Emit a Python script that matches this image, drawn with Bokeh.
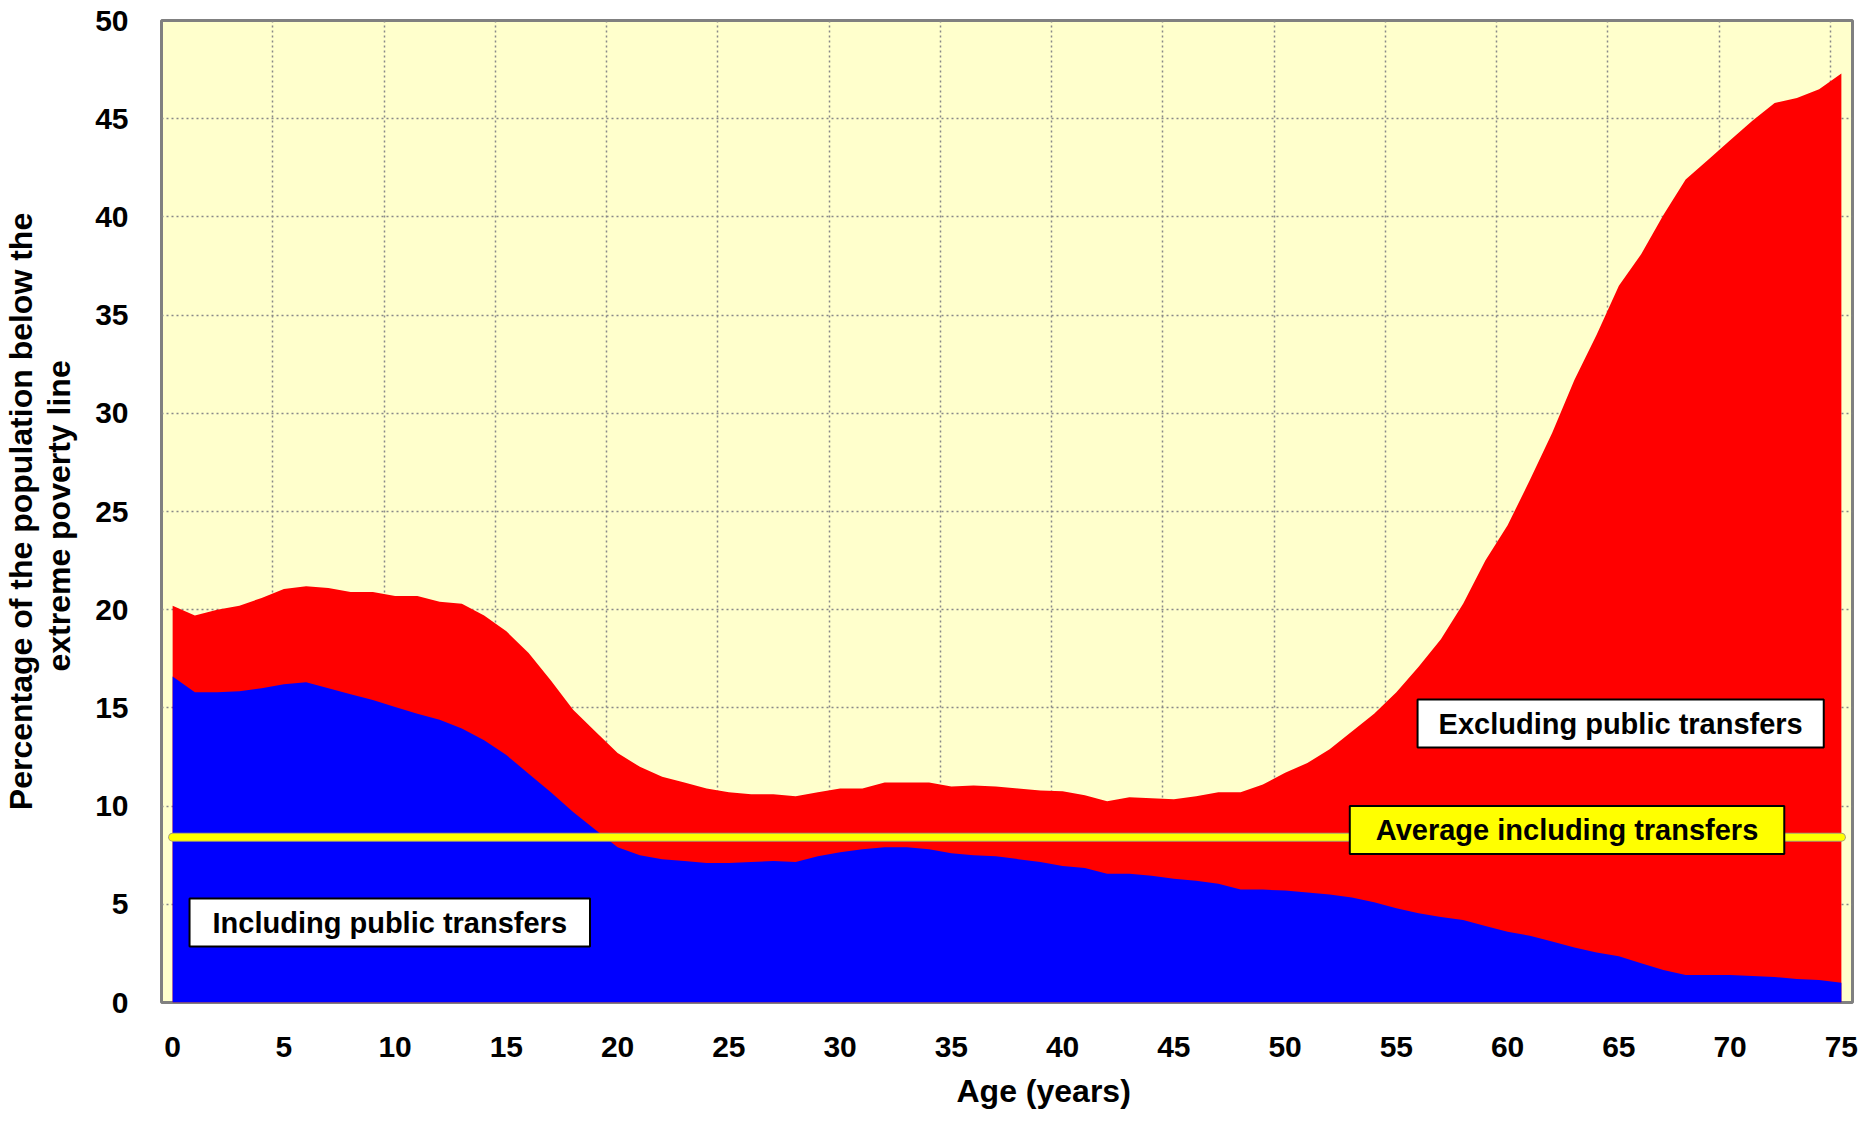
from bokeh.plotting import figure
from bokeh.models import Range1d, FixedTicker, Label, Title, ColumnDataSource
from bokeh.embed import file_html
from bokeh.resources import INLINE

# ---- data ----
ages = list(range(0, 76))
excluding_transfers = [
    20.2, 19.7, 20.0, 20.2, 20.6, 21.05, 21.2, 21.1, 20.9, 20.9,
    20.7, 20.7, 20.4, 20.3, 19.7, 18.9, 17.8, 16.4, 14.9, 13.8,
    12.7, 12.0, 11.5, 11.2, 10.9, 10.7, 10.6, 10.6, 10.5, 10.7,
    10.9, 10.9, 11.2, 11.2, 11.2, 11.0, 11.05, 11.0, 10.9, 10.8,
    10.75, 10.55, 10.25, 10.45, 10.4, 10.35, 10.5, 10.7, 10.7, 11.1,
    11.7, 12.2, 12.9, 13.8, 14.7, 15.8, 17.1, 18.5, 20.3, 22.5,
    24.3, 26.6, 29.0, 31.7, 34.0, 36.5, 38.1, 40.1, 41.9, 42.9,
    43.9, 44.9, 45.8, 46.05, 46.5, 47.3,
]
including_transfers = [
    16.6, 15.8, 15.8, 15.85, 16.0, 16.2, 16.3, 16.0, 15.7, 15.4,
    15.05, 14.7, 14.4, 13.95, 13.35, 12.6, 11.65, 10.7, 9.7, 8.8,
    7.9, 7.5, 7.3, 7.2, 7.1, 7.1, 7.15, 7.2, 7.15, 7.45,
    7.65, 7.8, 7.9, 7.9, 7.8, 7.6, 7.5, 7.45, 7.3, 7.15,
    6.95, 6.85, 6.55, 6.55, 6.45, 6.3, 6.2, 6.05, 5.75, 5.75,
    5.7, 5.6, 5.5, 5.35, 5.1, 4.8, 4.55, 4.35, 4.2, 3.9,
    3.6, 3.4, 3.1, 2.8, 2.55, 2.35, 2.0, 1.65, 1.4, 1.4,
    1.4, 1.35, 1.3, 1.2, 1.15, 1.0,
]
average_including = 8.42
x_ticks = list(range(0, 76, 5))
y_ticks = list(range(0, 51, 5))

label_including = "Including public transfers"
label_excluding = "Excluding public transfers"
label_average = "Average including transfers"
x_title = "Age (years)"
y_title = "Percentage of the population below the\nextreme poverty  line"

FONT = "Liberation Sans"

src = ColumnDataSource(dict(age=ages, excl=excluding_transfers, incl=including_transfers,
                            zero=[0] * len(ages)))

p = figure(width=1870, height=1121,
           x_range=Range1d(-0.5, 75.5), y_range=Range1d(0, 50),
           output_backend="svg", toolbar_location=None,
           min_border_left=161, min_border_right=18,
           min_border_top=20, min_border_bottom=119,
           background_fill_color="#FFFFCC", border_fill_color="white")

p.outline_line_color = "#808080"
p.outline_line_width = 3

# areas
p.varea(x="age", y1="zero", y2="excl", source=src, fill_color="#FF0000")
p.varea(x="age", y1="zero", y2="incl", source=src, fill_color="#0000FF")

# average line
p.line([ages[0], ages[-1]], [average_including, average_including],
       line_color="#A8A070", line_width=9, line_cap="round")
p.line([ages[0], ages[-1]], [average_including, average_including],
       line_color="#FFFF00", line_width=7, line_cap="round")

# axes
p.xaxis.ticker = FixedTicker(ticks=x_ticks)
p.yaxis.ticker = FixedTicker(ticks=y_ticks)
for ax in (p.xaxis[0], p.yaxis[0]):
    ax.axis_line_color = None
    ax.major_tick_line_color = None
    ax.minor_tick_line_color = None
    ax.major_label_text_font = FONT
    ax.major_label_text_font_style = "bold"
    ax.major_label_text_font_size = "30px"
    ax.major_label_text_color = "black"
    ax.axis_label_text_font = FONT
    ax.axis_label_text_font_style = "bold"
    ax.axis_label_text_color = "black"

p.xaxis.major_label_standoff = 28
p.yaxis.axis_label = y_title
p.yaxis.axis_label_text_font_size = "32px"
p.yaxis.major_label_standoff = 27
p.yaxis.axis_label_standoff = 15
p.yaxis.axis_label_text_line_height = 1.05

# x-axis title (sits right of centre, as in the reference)
p.add_layout(Title(text=x_title, align="left", offset=795, standoff=23,
                   text_font=FONT, text_font_style="bold", text_font_size="32px",
                   text_color="black"), "below")

# grids
p.xgrid.ticker = FixedTicker(ticks=[t - 0.5 for t in x_ticks if t > 0])
p.ygrid.ticker = FixedTicker(ticks=[t for t in y_ticks if 0 < t < 50])
for g in (p.xgrid[0], p.ygrid[0]):
    g.grid_line_color = "#888888"
    g.grid_line_dash = "2 3"
    g.grid_line_width = 1.5

# text boxes
def box(x, y, text, fill, hpad):
    lab = Label(x=x, y=y, text=text, text_align="center", text_baseline="middle",
                text_font=FONT, text_font_style="bold", text_font_size="29px",
                text_color="black", background_fill_color=fill,
                border_line_color="black", border_line_width=2,
                padding=(hpad, 8))
    p.add_layout(lab)

box(9.76, 4.07, label_including, "white", 23)
box(65.08, 14.2, label_excluding, "white", 21)
box(62.67, 8.78, label_average, "#FFFF00", 26)

open("out.html", "w").write(file_html(p, INLINE))
